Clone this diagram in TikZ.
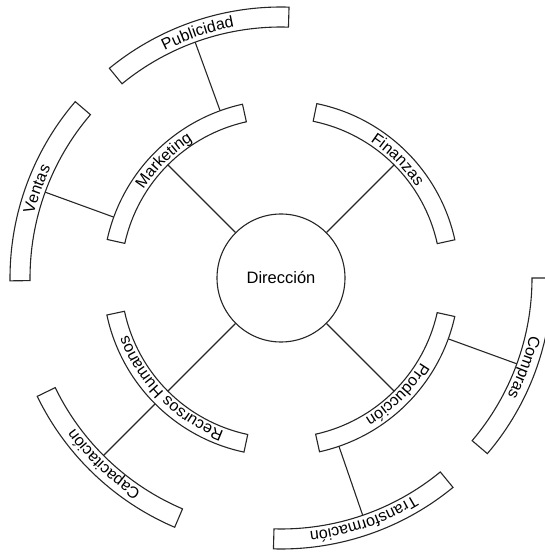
\documentclass[tikz,border=0pt]{standalone}
\usepackage{fontspec}
\setmainfont{Liberation Sans}
\usetikzlibrary{decorations.text}

\newcommand\bandfont{\fontsize{16}{18}\selectfont}

% Annular band around the origin of the current scope, with its label
% written along the arc (letters pointing outward).
% #1 centre angle, #2 half span, #3 inner radius, #4 outer radius, #5 label
\newcommand\ringband[5]{%
  \pgfmathsetmacro\bandA{#1-#2}%
  \pgfmathsetmacro\bandB{#1+#2}%
  \pgfmathsetmacro\bandR{(#3+#4)/2-5.7}%
  \draw[bandline] (\bandA:#3pt) arc[start angle=\bandA, end angle=\bandB, radius=#3pt]
    -- (\bandB:#4pt) arc[start angle=\bandB, end angle=\bandA, radius=#4pt] -- cycle;
  \path[decorate, decoration={text along path, text={|\bandfont|#5}, text align=center}]
    (\bandB:\bandR pt) arc[start angle=\bandB, end angle=\bandA, radius=\bandR pt];
}

\begin{document}
\begin{tikzpicture}[
    x=1pt, y=1pt,
    bandline/.style={draw=black!85, line width=1.1pt, fill=white},
    link/.style={draw=black!85, line width=1.1pt},
    hub/.style={circle, draw=black!85, line width=1.1pt, fill=white,
                minimum size=128pt, inner sep=0pt,
                font=\fontsize{16.5}{19}\selectfont}
  ]
  \useasboundingbox (0,0) rectangle (545,552);

  \begin{scope}[shift={(281,274)}]
    % central unit
    \node[hub] (dir) at (0,0) {Dirección};

    % attachment points on the inner ring (r = 160 .. 178)
    \coordinate (mk-in) at (135:160pt);
    \coordinate (fi-in) at (45:160pt);
    \coordinate (pr-in) at (-45:160pt);
    \coordinate (rh-in) at (225:160pt);

    % attachment points between the inner and the outer ring (r = 251 .. 271)
    \coordinate (mk-pu) at (110:178pt);  \coordinate (pu-in) at (110:251pt);
    \coordinate (mk-ve) at (160:178pt);  \coordinate (ve-in) at (160:251pt);
    \coordinate (pr-co) at (-20:178pt);  \coordinate (co-in) at (-20:251pt);
    \coordinate (pr-tr) at (-71:178pt);  \coordinate (tr-in) at (-71:251pt);
    \coordinate (rh-ca) at (225:178pt);  \coordinate (ca-in) at (225:251pt);

    % connectors
    \draw[link] (dir.135) -- (mk-in);
    \draw[link] (dir.45)  -- (fi-in);
    \draw[link] (dir.-45) -- (pr-in);
    \draw[link] (dir.225) -- (rh-in);
    \draw[link] (mk-pu) -- (pu-in);
    \draw[link] (mk-ve) -- (ve-in);
    \draw[link] (pr-co) -- (co-in);
    \draw[link] (pr-tr) -- (tr-in);
    \draw[link] (rh-ca) -- (ca-in);

    % inner ring: departments
    \ringband{135}{32.5}{160}{178}{Marketing}
    \ringband{45.4}{33}{160}{178}{Finanzas}
    \ringband{-45}{32.5}{160}{178}{Producción}
    \ringband{225}{33}{160}{178}{Recursos Humanos}

    % outer ring: sub-areas
    \ringband{108.8}{20.5}{251}{271}{Publicidad}
    \ringband{160}{20.6}{251}{271}{Ventas}
    \ringband{-20.2}{20.2}{251}{271}{Compras}
    \ringband{-71.1}{20.5}{251}{271}{Transformación}
    \ringband{226.4}{20.5}{251}{271}{Capacitación}
  \end{scope}
\end{tikzpicture}
\end{document}
